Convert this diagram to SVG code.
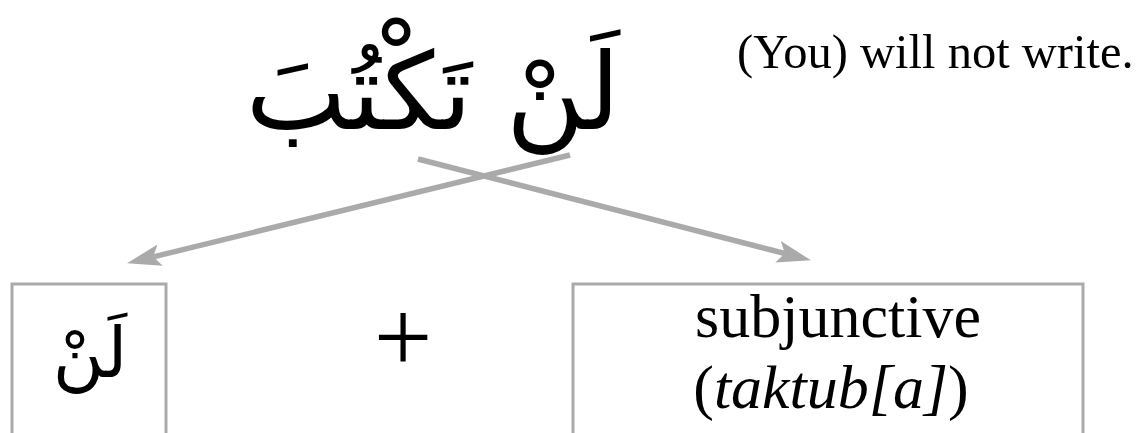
<svg xmlns="http://www.w3.org/2000/svg" width="1141" height="433" viewBox="0 0 1141 433">
<style>
.ar{font-family:"DejaVu Sans",sans-serif;fill:#000}
.en{font-family:"Liberation Serif","Times New Roman",serif;fill:#000}
.box{fill:#fff;stroke:#aaaaaa;stroke-width:3}
.conn{stroke:#aaaaaa;stroke-width:5.5;fill:none}
</style>
<defs>
<marker id="ah" markerUnits="userSpaceOnUse" markerWidth="40" markerHeight="26" refX="7" refY="13" orient="auto" viewBox="0 0 40 26">
<path d="M0,2 L34,13 L0,24 L7,13 Z" fill="#aaaaaa"/>
</marker>
</defs>
<rect width="1141" height="433" fill="#fff"/>
<g id="title">
<text class="ar" x="433" y="129" font-size="107" text-anchor="middle" direction="rtl">لَنْ تَكْتُبَ</text>
</g>
<g id="translation">
<text class="en" x="737" y="68" font-size="48.5">(You) will not write.</text>
</g>
<g id="connectors">
<line class="conn" x1="570" y1="155" x2="153.3" y2="256.8" marker-end="url(#ah)"/>
<line class="conn" x1="418" y1="159" x2="784.8" y2="253.5" marker-end="url(#ah)"/>
</g>
<g id="node-lan">
<rect class="box" x="12" y="284" width="154" height="170"/>
<text class="ar" x="90" y="377" font-size="70" text-anchor="middle" direction="rtl">لَنْ</text>
</g>
<g id="plus">
<text class="en" x="403" y="372" font-size="104" text-anchor="middle">+</text>
</g>
<g id="node-subjunctive">
<rect class="box" x="573" y="284" width="510" height="170"/>
<text class="en" x="838" y="337" font-size="62" text-anchor="middle">subjunctive</text>
<text class="en" x="831" y="408" font-size="62" text-anchor="middle">(<tspan font-style="italic">taktub[a]</tspan>)</text>
</g>
</svg>
